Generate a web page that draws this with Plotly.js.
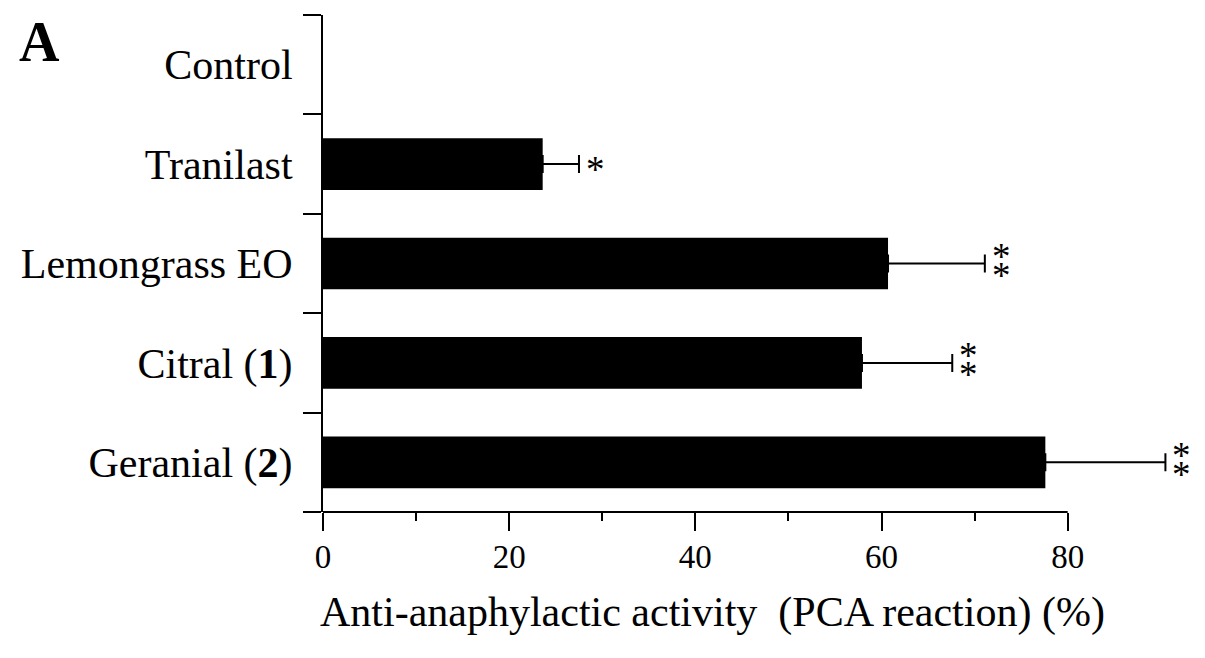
<!DOCTYPE html>
<html><head><meta charset="utf-8">
<script src="https://cdn.plot.ly/plotly-3.0.1.min.js"></script>
<style>body{margin:0;background:#fff}#chart{width:1205px;height:658px}</style>
</head><body><div id="chart"></div>
<script>
const categories = ["Control", "Tranilast", "Lemongrass EO", "Citral (1)", "Geranial (2)"];
const tickLabels = ["Control", "Tranilast", "Lemongrass EO", "Citral (<b>1</b>)", "Geranial (<b>2</b>)"];
const values = [0, 23.6, 60.7, 57.9, 77.6];
const errors = [null, 3.9, 10.4, 9.7, 12.9];
const starCounts = [0, 1, 2, 2, 2];
const xTickValues = [0, 20, 40, 60, 80];
const xMinorTickValues = [10, 30, 50, 70];

const font = "Liberation Serif, Times New Roman, serif";

// bars with no error value (the control) get no error bar
const errPlus = errors.map(e => (e === null ? NaN : e));
const errMinus = errors.map(e => (e === null ? NaN : 0));

const starAnnotations = [];
categories.forEach((c, i) => {
  const end = values[i] + (errors[i] === null ? 0 : errors[i]);
  const n = starCounts[i];
  for (let k = 0; k < n; k++) {
    const shift = n === 1 ? -5 : (k === 0 ? 7 : -12);
    starAnnotations.push({
      x: end, y: c, xref: "x", yref: "y", xanchor: "left", yanchor: "middle",
      xshift: 5, yshift: shift, text: "*", showarrow: false,
      font: {family: font, size: 37, color: "#000"}
    });
  }
});

const traces = [
  {
    type: "bar", orientation: "h", y: categories, x: values,
    marker: {color: "#000", line: {width: 0}}, width: 0.52,
    error_x: {type: "data", array: errPlus, symmetric: false, arrayminus: errMinus,
              color: "#000", thickness: 2, width: 9},
    hoverinfo: "x+y"
  }
];

const layout = {
  width: 1205, height: 658,
  margin: {l: 323, r: 7, t: 15, b: 146},
  paper_bgcolor: "#fff", plot_bgcolor: "#fff",
  showlegend: false,
  font: {family: font, color: "#000"},
  xaxis: {
    range: [0, 94], tickmode: "array", tickvals: xTickValues,
    showgrid: false, zeroline: false, showline: false,
    ticks: "outside", ticklen: 18, tickwidth: 2, tickcolor: "#000",
    minor: {tickmode: "array", tickvals: xMinorTickValues, ticks: "outside", ticklen: 8, tickwidth: 2, tickcolor: "#000", showgrid: false},
    tickfont: {family: font, size: 33, color: "#000"},
    ticklabelstandoff: -3
  },
  yaxis: {
    type: "category", autorange: false, range: [4.5, -0.5],
    tickvals: categories, ticktext: tickLabels,
    tickson: "boundaries",
    showgrid: false, zeroline: false,
    showline: true, linecolor: "#000", linewidth: 2,
    ticks: "outside", ticklen: 18, tickwidth: 2, tickcolor: "#000",
    tickfont: {family: font, size: 42, color: "#000"},
    ticklabelstandoff: 20
  },
  shapes: [
    {type: "line", xref: "x", yref: "paper", x0: xTickValues[0], x1: xTickValues[xTickValues.length - 1], y0: 0, y1: 0,
     line: {color: "#000", width: 2}}
  ],
  annotations: [
    {xref: "paper", yref: "paper", x: -0.3497, y: 0.9457, xanchor: "left", yanchor: "middle",
     text: "<b>A</b>", showarrow: false, font: {family: font, size: 56, color: "#000"}},
    {xref: "paper", yref: "paper", x: 0.4446, y: 0, xanchor: "center", yanchor: "middle", yshift: -100,
     text: "Anti-anaphylactic activity  (PCA reaction) (%)", showarrow: false,
     font: {family: font, size: 42, color: "#000"}}
  ].concat(starAnnotations)
};

Plotly.newPlot("chart", traces, layout, {displayModeBar: false, staticPlot: true});
</script>
</body></html>
